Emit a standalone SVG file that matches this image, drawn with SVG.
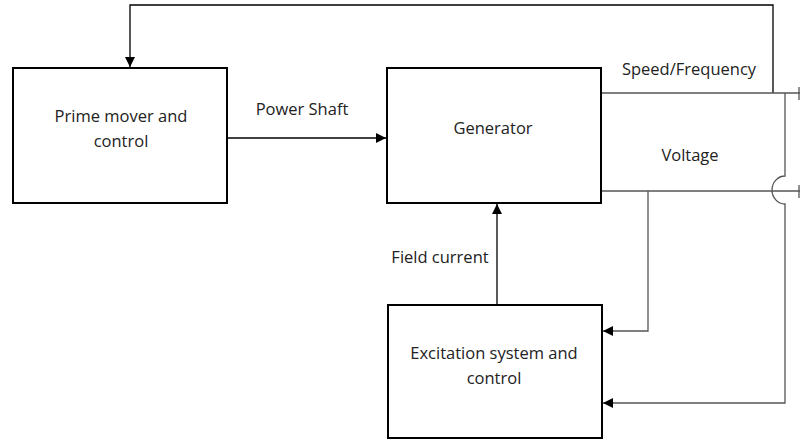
<svg xmlns="http://www.w3.org/2000/svg" width="800" height="442" viewBox="0 0 800 442">
<style>
.box{fill:#fff;stroke:#000;stroke-width:2}
.c{fill:none;stroke:#555;stroke-width:1.3}
.ca{fill:none;stroke:#000;stroke-width:1.3}
text{font-family:"Open Sans","Liberation Sans",sans-serif;font-size:16.5px;fill:#222;text-anchor:middle}
</style>
<defs>
<marker id="ah" viewBox="0 0 10 10" refX="10" refY="5" markerWidth="10" markerHeight="10" markerUnits="userSpaceOnUse" orient="auto">
<path d="M0,0 L10,5 L0,10 Z" fill="#000"/>
</marker>
</defs>
<rect width="800" height="442" fill="#fff"/>
<g id="connectors">
<path class="ca" d="M773,93 V5 H130 V67" marker-end="url(#ah)"/>
<path class="ca" d="M227,138 H386" marker-end="url(#ah)"/>
<path class="ca" d="M497,304 V204" marker-end="url(#ah)"/>
<path class="c" d="M601,93 H800"/>
<path class="c" d="M601,191 H800"/>
<path class="c" d="M648,191 V331 H603" marker-end="url(#ah)"/>
<path class="c" d="M785,93 V176 A13,14 0 0 0 785,204 V403 H603" marker-end="url(#ah)"/>
<path class="c" d="M799,87 V100 M799,185 V198"/>
<text x="689" y="75">Speed/Frequency</text>
<text x="690" y="161">Voltage</text>
<text x="302" y="115">Power Shaft</text>
<text x="440" y="263">Field current</text>
</g>
<g id="prime-mover">
<rect class="box" x="13" y="68" width="214" height="135"/>
<text x="121" y="122">Prime mover and</text>
<text x="121" y="147">control</text>
</g>
<g id="generator">
<rect class="box" x="387" y="68" width="214" height="135"/>
<text x="493" y="134">Generator</text>
</g>
<g id="excitation">
<rect class="box" x="388" y="305" width="214" height="133"/>
<text x="494" y="359">Excitation system and</text>
<text x="494" y="384">control</text>
</g>
</svg>
